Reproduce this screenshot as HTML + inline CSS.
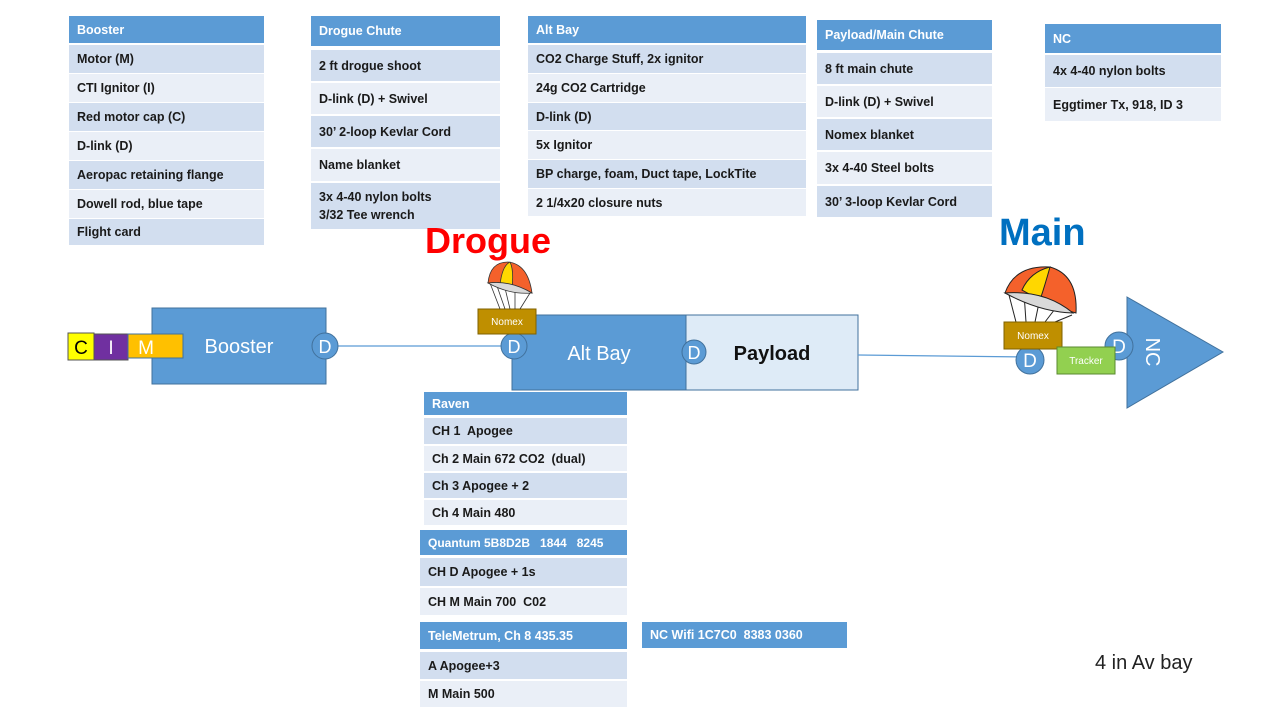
<!DOCTYPE html>
<html><head><meta charset="utf-8"><style>
body{margin:0;width:1280px;height:720px;background:#fff;position:relative;overflow:hidden;font-family:"Liberation Sans",sans-serif}
.c{position:absolute;box-sizing:border-box;padding-left:8px;display:flex;align-items:center;font-size:12.5px;font-weight:bold;color:#1a1a1a;line-height:18px}
.h{background:#5B9BD5;color:#fff}
.a{background:#D2DEEF}
.b{background:#EAEFF7}
.t{position:absolute;font-weight:bold}
</style></head><body>

<!-- Booster table -->
<div class="c h" style="left:69px;top:16px;width:195px;height:27px">Booster</div>
<div class="c a" style="left:69px;top:45px;width:195px;height:28px">Motor (M)</div>
<div class="c b" style="left:69px;top:74px;width:195px;height:28px">CTI Ignitor (I)</div>
<div class="c a" style="left:69px;top:103px;width:195px;height:28px">Red motor cap (C)</div>
<div class="c b" style="left:69px;top:132px;width:195px;height:28px">D-link (D)</div>
<div class="c a" style="left:69px;top:161px;width:195px;height:28px">Aeropac retaining flange</div>
<div class="c b" style="left:69px;top:190px;width:195px;height:28px">Dowell rod, blue tape</div>
<div class="c a" style="left:69px;top:219px;width:195px;height:26px">Flight card</div>

<!-- Drogue chute -->
<div class="c h" style="left:311px;top:16px;width:189px;height:30px">Drogue Chute</div>
<div class="c a" style="left:311px;top:50px;width:189px;height:31px">2 ft drogue shoot</div>
<div class="c b" style="left:311px;top:83px;width:189px;height:31px">D-link (D) + Swivel</div>
<div class="c a" style="left:311px;top:116px;width:189px;height:31px">30’ 2-loop Kevlar Cord</div>
<div class="c b" style="left:311px;top:149px;width:189px;height:32px">Name blanket</div>
<div class="c a" style="left:311px;top:183px;width:189px;height:46px">3x 4-40 nylon bolts<br>3/32 Tee wrench</div>

<!-- Alt Bay -->
<div class="c h" style="left:528px;top:16px;width:278px;height:27px">Alt Bay</div>
<div class="c a" style="left:528px;top:45px;width:278px;height:28px">CO2 Charge Stuff, 2x ignitor</div>
<div class="c b" style="left:528px;top:74px;width:278px;height:28px">24g CO2 Cartridge</div>
<div class="c a" style="left:528px;top:103px;width:278px;height:27px">D-link (D)</div>
<div class="c b" style="left:528px;top:131px;width:278px;height:28px">5x Ignitor</div>
<div class="c a" style="left:528px;top:160px;width:278px;height:28px">BP charge, foam, Duct tape, LockTite</div>
<div class="c b" style="left:528px;top:189px;width:278px;height:27px">2 1/4x20 closure nuts</div>

<!-- Payload -->
<div class="c h" style="left:817px;top:20px;width:175px;height:30px">Payload/Main Chute</div>
<div class="c a" style="left:817px;top:53px;width:175px;height:31px">8 ft main chute</div>
<div class="c b" style="left:817px;top:86px;width:175px;height:31px">D-link (D) + Swivel</div>
<div class="c a" style="left:817px;top:119px;width:175px;height:31px">Nomex blanket</div>
<div class="c b" style="left:817px;top:152px;width:175px;height:32px">3x 4-40 Steel bolts</div>
<div class="c a" style="left:817px;top:186px;width:175px;height:31px">30’ 3-loop Kevlar Cord</div>

<!-- NC -->
<div class="c h" style="left:1045px;top:24px;width:176px;height:29px">NC</div>
<div class="c a" style="left:1045px;top:55px;width:176px;height:32px">4x 4-40 nylon bolts</div>
<div class="c b" style="left:1045px;top:88px;width:176px;height:33px">Eggtimer Tx, 918, ID 3</div>

<!-- Raven -->
<div class="c h" style="left:424px;top:392px;width:203px;height:23px">Raven</div>
<div class="c a" style="left:424px;top:418px;width:203px;height:26px">CH 1&nbsp; Apogee</div>
<div class="c b" style="left:424px;top:446px;width:203px;height:25px">Ch 2 Main 672 CO2&nbsp; (dual)</div>
<div class="c a" style="left:424px;top:473px;width:203px;height:25px">Ch 3 Apogee + 2</div>
<div class="c b" style="left:424px;top:500px;width:203px;height:25px">Ch 4 Main 480</div>
<div class="c h" style="left:420px;top:530px;width:207px;height:25px;font-size:12px">Quantum 5B8D2B&nbsp;&nbsp; 1844&nbsp;&nbsp; 8245</div>
<div class="c a" style="left:420px;top:558px;width:207px;height:28px">CH D Apogee + 1s</div>
<div class="c b" style="left:420px;top:588px;width:207px;height:27px">CH M Main 700&nbsp; C02</div>
<div class="c h" style="left:420px;top:622px;width:207px;height:27px">TeleMetrum, Ch 8 435.35</div>
<div class="c a" style="left:420px;top:652px;width:207px;height:27px">A Apogee+3</div>
<div class="c b" style="left:420px;top:681px;width:207px;height:26px">M Main 500</div>
<div class="c h" style="left:642px;top:622px;width:205px;height:26px">NC Wifi 1C7C0&nbsp; 8383 0360</div>

<div class="t" style="left:425px;top:220px;font-size:36px;color:#FF0000">Drogue</div>
<div class="t" style="left:999px;top:212px;font-size:38px;color:#0070C0">Main</div>
<div style="position:absolute;left:1095px;top:652px;font-size:20px;color:#222">4 in Av bay</div>

<svg width="1280" height="720" style="position:absolute;left:0;top:0" font-family="Liberation Sans, sans-serif">
 <line x1="338" y1="346" x2="502" y2="346" stroke="#5B9BD5" stroke-width="1.2"/>
 <rect x="152" y="308" width="174" height="76" fill="#5B9BD5" stroke="#41719C"/>
 <text x="239" y="353" fill="#fff" font-size="20" text-anchor="middle">Booster</text>
 <rect x="68" y="333" width="26" height="27" fill="#FFFF00" stroke="#555"/>
 <text x="81" y="354" font-size="19" text-anchor="middle">C</text>
 <rect x="94" y="334" width="34" height="26" fill="#7030A0" stroke="#555"/>
 <text x="111" y="354" font-size="19" fill="#fff" text-anchor="middle">I</text>
 <rect x="128" y="334" width="55" height="24" fill="#FFC000" stroke="#41719C"/>
 <text x="146" y="354" font-size="19" fill="#fff" text-anchor="middle">M</text>
 <circle cx="325" cy="346" r="13" fill="#5B9BD5" stroke="#41719C"/>
 <text x="325" y="353" font-size="18" fill="#fff" text-anchor="middle">D</text>

 <rect x="512" y="315" width="174" height="75" fill="#5B9BD5" stroke="#41719C"/>
 <text x="599" y="360" fill="#fff" font-size="20" text-anchor="middle">Alt Bay</text>
 <rect x="686" y="315" width="172" height="75" fill="#DEEBF7" stroke="#41719C"/>
 <text x="772" y="360" fill="#111" font-size="20" font-weight="bold" text-anchor="middle">Payload</text>
 <circle cx="514" cy="346" r="13" fill="#5B9BD5" stroke="#41719C"/>
 <text x="514" y="353" font-size="18" fill="#fff" text-anchor="middle">D</text>
 <circle cx="694" cy="352" r="12" fill="#5B9BD5" stroke="#41719C"/>
 <text x="694" y="359" font-size="18" fill="#fff" text-anchor="middle">D</text>
 <rect x="478" y="309" width="58" height="25" fill="#BF8F00" stroke="#7f6000"/>
 <text x="507" y="325" font-size="10" fill="#fff" text-anchor="middle">Nomex</text>
 <!-- drogue chute -->
 <g stroke="#333" stroke-width="0.8">
  <line x1="490" y1="283" x2="500" y2="309"/><line x1="497" y1="286" x2="505" y2="309"/><line x1="505" y1="288" x2="510" y2="309"/><line x1="515" y1="289" x2="515" y2="309"/><line x1="530" y1="293" x2="520" y2="309"/>
  <path d="M488 283 Q490 262 508 262 Q528 264 532 293 Z" fill="#F4612B"/>
  <path d="M500 285 Q502 266 510 262 Q514 270 512 288 Z" fill="#FFD700"/>
  <path d="M488 283 Q510 280 532 293 Q510 295 488 283 Z" fill="#D9D9D9"/>
 </g>

 <line x1="858" y1="355" x2="1030" y2="357" stroke="#5B9BD5" stroke-width="1.2"/>
 <polygon points="1127,297 1223,352 1127,408" fill="#5B9BD5" stroke="#41719C"/>
 <text transform="translate(1146,352) rotate(90)" font-size="20" fill="#fff" text-anchor="middle">NC</text>
 <circle cx="1119" cy="346" r="14" fill="#5B9BD5" stroke="#41719C"/>
 <text x="1119" y="353" font-size="19" fill="#fff" text-anchor="middle">D</text>
 <circle cx="1030" cy="360" r="14" fill="#5B9BD5" stroke="#41719C"/>
 <text x="1030" y="367" font-size="19" fill="#fff" text-anchor="middle">D</text>
 <g stroke="#222" stroke-width="1">
  <line x1="1009" y1="295" x2="1016" y2="322"/><line x1="1024" y1="293" x2="1026" y2="322"/><line x1="1040" y1="298" x2="1035" y2="322"/><line x1="1058" y1="305" x2="1045" y2="322"/><line x1="1072" y1="315" x2="1055" y2="322"/>
  <path d="M1005 293 Q1015 265 1050 267 Q1078 275 1076 313 Z" fill="#F4612B"/>
  <path d="M1022 290 Q1030 272 1050 267 Q1045 285 1040 300 Z" fill="#FFD700"/>
  <path d="M1005 293 Q1045 290 1073 313 Q1040 312 1005 293 Z" fill="#D9D9D9"/>
 </g>
 <rect x="1004" y="322" width="58" height="27" fill="#BF8F00" stroke="#7f6000"/>
 <text x="1033" y="339" font-size="10" fill="#fff" text-anchor="middle">Nomex</text>
 <rect x="1057" y="347" width="58" height="27" fill="#92D050" stroke="#5a8a30"/>
 <text x="1086" y="364" font-size="10" fill="#fff" text-anchor="middle">Tracker</text>
</svg>
</body></html>
